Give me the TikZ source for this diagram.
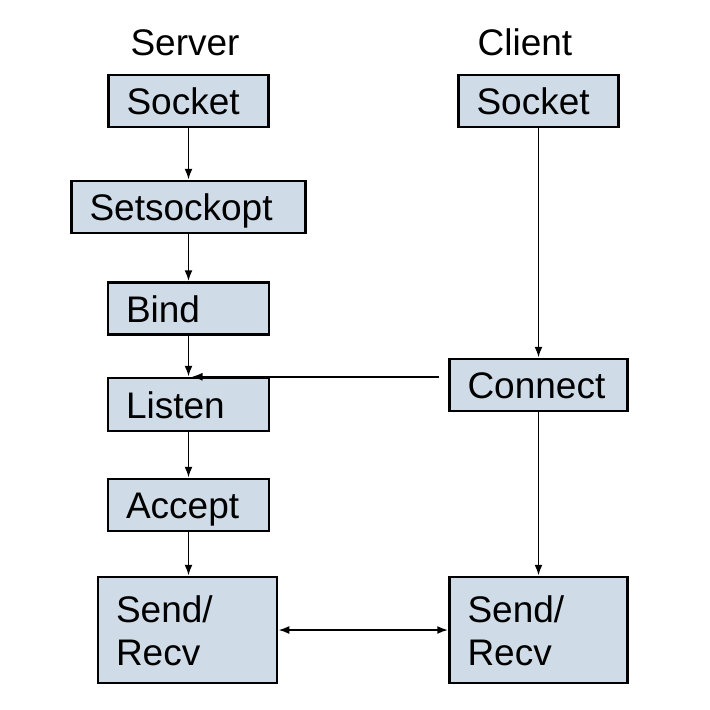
\documentclass[tikz,border=0pt]{standalone}
\usepackage{fontspec}
\setmainfont{Liberation Sans}
\usepackage{tikz}
\usetikzlibrary{arrows.meta}
\tikzset{>={Latex[length=11pt, width=8pt]}}
\definecolor{myblue1}{RGB}{207, 220, 232}

\begin{document}
\begin{tikzpicture}[
    x = 1pt, y = -1pt,
    t0/.style = {inner sep = 0pt, text height = 27pt, text depth = 0pt, font = \fontsize{37}{43}\selectfont},
    b0/.style = {t0, draw, fill = myblue1, line width = 2.5, inner xsep = 18pt, align = left, text width = #1, minimum height = 52pt},
    b1/.style = {b0 = #1, text depth = 43pt, minimum height = 106pt},
    d0/.style = {line width = 1.9, ->}
]

\fill[white] (0, 0) rectangle (710, 710);
\useasboundingbox (0, 0) rectangle (710, 710);

\node[t0] (srv) at (185, 42) {Server};
\node[t0] (cli) at (525, 42) {Client};

\node[b0 = 124pt] (ssock) at (188.5, 101) {Socket};
\node[b0 = 198pt] (sopt) at (188.5, 207) {Setsockopt};
\node[b0 = 125pt] (bind) at (188.5, 308.5) {Bind};
\node[b0 = 125pt, minimum height = 53pt] (listen) at (188.5, 404.5) {Listen};
\node[b0 = 125pt] (accept) at (188.5, 505) {Accept};
\node[b1 = 143pt] (ssend) at (187.5, 630) {Send/\\Recv};

\node[b0 = 124pt] (csock) at (538.5, 101) {Socket};
\node[b0 = 142pt] (conn) at (538.5, 385) {Connect};
\node[b1 = 142pt] (csend) at (538.5, 630) {Send/\\Recv};

\draw[d0] (ssock) -- (sopt);
\draw[d0] (sopt) -- (bind);
\draw[d0] (bind) -- (listen);
\draw[d0] (listen) -- (accept);
\draw[d0] (accept.south) -- (accept.south |- ssend.north);

\draw[d0] (csock) -- (conn);
\draw[d0] (conn) -- (csend);
\draw[d0] ([xshift = -9pt]conn.west |- listen.north) -- ([xshift = 3pt]listen.north);

\draw[d0, <->] (ssend) -- (csend);

\end{tikzpicture}
\end{document}
